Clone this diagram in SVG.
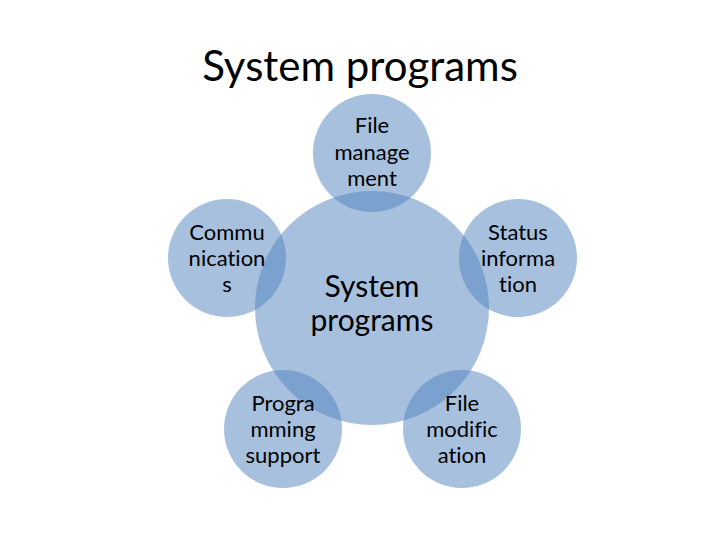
<svg xmlns="http://www.w3.org/2000/svg" width="720" height="540" viewBox="0 0 720 540">
<style>
.c{fill:#4f81bd;fill-opacity:0.5}
text{font-family:Lato,"Open Sans","Liberation Sans",sans-serif;fill:#000;text-anchor:middle;font-variant-ligatures:none;font-feature-settings:"liga" 0}
.s{font-size:22px}
.m{font-size:30px}
.t{font-size:42px}
</style>
<rect width="720" height="540" fill="#fff"/>
<text class="t" x="360" y="81">System programs</text>
<g id="center"><circle class="c" cx="372" cy="308" r="117"/><text class="m" x="372" y="297">System</text><text class="m" x="372" y="331">programs</text></g>
<g id="file-management"><circle class="c" cx="372" cy="153" r="59"/><text class="s" x="372" y="133">File</text><text class="s" x="372" y="160">manage</text><text class="s" x="372" y="186">ment</text></g>
<g id="communications"><circle class="c" cx="227" cy="258" r="59"/><text class="s" x="227" y="240">Commu</text><text class="s" x="227" y="266">nication</text><text class="s" x="227" y="292">s</text></g>
<g id="status-information"><circle class="c" cx="518" cy="258" r="59"/><text class="s" x="518" y="240">Status</text><text class="s" x="518" y="266">informa</text><text class="s" x="518" y="292">tion</text></g>
<g id="programming-support"><circle class="c" cx="283" cy="429" r="59"/><text class="s" x="283" y="411">Progra</text><text class="s" x="283" y="437">mming</text><text class="s" x="283" y="463">support</text></g>
<g id="file-modification"><circle class="c" cx="462" cy="429" r="59"/><text class="s" x="462" y="411">File</text><text class="s" x="462" y="437">modific</text><text class="s" x="462" y="463">ation</text></g>
<g id="connectors"></g>
</svg>
